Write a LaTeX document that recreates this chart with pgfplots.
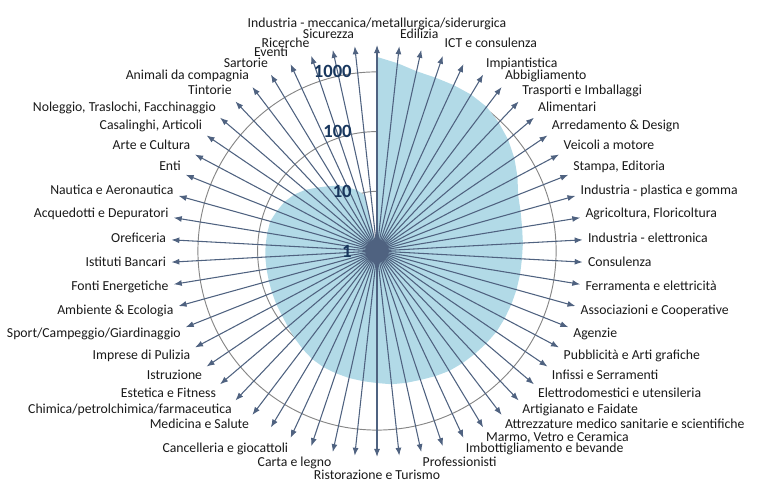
\documentclass[border=0pt]{standalone}
\usepackage{fontspec}
\setmainfont{Carlito}
\usepackage{pgfplots}
\usepackage{pgfplotstable}
\pgfplotsset{compat=1.18}
\usetikzlibrary{arrows.meta}
\definecolor{fillc}{RGB}{178,218,231}
\definecolor{spokec}{RGB}{79,98,128}
\definecolor{gridc}{RGB}{134,134,134}
\definecolor{tickc}{RGB}{23,54,93}
\newcommand\lblfont{\fontsize{10.3}{12}\selectfont}
\tikzset{
  lbl/.style={inner sep=0pt, font=\lblfont, text=black!90, text height=7.3pt, text depth=2.3pt},
  tck/.style={inner sep=0pt, font=\fontsize{14}{16}\selectfont\bfseries, text=tickc, anchor=east}}
\pgfplotstableread{
k v
0 1780
1 1460
2 1210
3 1160
4 1150
5 1140
6 1080
7 920
8 760
9 600
10 460
11 350
12 313
13 290
14 280
15 270
16 268
17 266
18 264
19 262
20 260
21 249
22 239
23 230
24 221
25 205
26 190
27 183
28 176
29 163
30 156
31 151
32 145
33 139
34 129
35 115
36 102
37 91
38 84
39 81
40 78
41 76
42 75
43 75
44 74
45 73
46 72
47 64
48 57
49 48
50 38
51 29
52 23
53 19
54 15
55 12
56 9
57 1
}\data
\newcommand\lab[2]{%
 \pgfmathsetmacro\la{90-#1*6.2068966}%
 \def\rr{3.535}%
 \ifnum#1=0 \def\rr{3.70}\fi
 \ifnum#1=29 \def\rr{3.66}\fi
 \pgfmathsetmacro\cx{cos(\la)}%
 \ifdim\cx pt>0.05pt \def\anc{west}\else\ifdim\cx pt<-0.05pt \def\anc{east}\else\def\anc{center}\fi\fi
 \pgfmathsetmacro\dy{max(-1,min(1,2.2*sin(\la)))*4.8}%
 \edef\labtmp{\noexpand\node[lbl,anchor=\anc,yshift=\dy pt] at (axis cs:{\rr*cos(\la)},{\rr*sin(\la)})}%
 \labtmp{#2};%
}
\begin{document}
\begin{tikzpicture}
\begin{axis}[x=44.775pt,y=44.775pt,
  xmin=-6.315,xmax=6.482,ymin=-4.020,ymax=4.204,
  hide axis, clip=false]
\path (axis cs:-6.315,-4.020) rectangle (axis cs:6.482,4.204);
\draw[gridc, line width=0.7pt] (axis cs:0,0) circle[radius=44.775pt];
\draw[gridc, line width=0.7pt] (axis cs:0,0) circle[radius=89.55pt];
\draw[gridc, line width=0.7pt] (axis cs:0,0) circle[radius=134.325pt];
\addplot[fill=fillc, draw=none] table[x expr={log10(\thisrow{v})*sin(\thisrow{k}*6.2068966)}, y expr={log10(\thisrow{v})*cos(\thisrow{k}*6.2068966)}] {\data};
\pgfplotsinvokeforeach{0,...,57}{\draw[spokec, line width=0.8pt, -{Latex[length=6pt,width=4.5pt]}] (axis cs:0,0) -- (axis cs:{3.45*sin(#1*6.2068966)},{3.45*cos(#1*6.2068966)});}
\fill[spokec] (axis cs:0,0) circle[radius=9pt];
\node[tck] at (axis cs:-0.42,0) {1};
\node[tck] at (axis cs:-0.42,1) {10};
\node[tck] at (axis cs:-0.42,2) {100};
\node[tck] at (axis cs:-0.42,3) {1000};
\lab{0}{Industria - meccanica/metallurgica/siderurgica}
\lab{1}{Edilizia}
\lab{3}{ICT e consulenza}
\lab{5}{Impiantistica}
\lab{6}{Abbigliamento}
\lab{7}{Trasporti e Imballaggi}
\lab{8}{Alimentari}
\lab{9}{Arredamento \& Design}
\lab{10}{Veicoli a motore}
\lab{11}{Stampa, Editoria}
\lab{12}{Industria - plastica e gomma}
\lab{13}{Agricoltura, Floricoltura}
\lab{14}{Industria - elettronica}
\lab{15}{Consulenza}
\lab{16}{Ferramenta e elettricità}
\lab{17}{Associazioni e Cooperative}
\lab{18}{Agenzie}
\lab{19}{Pubblicità e Arti grafiche}
\lab{20}{Infissi e Serramenti}
\lab{21}{Elettrodomestici e utensileria}
\lab{22}{Artigianato e Faidate}
\lab{23}{Attrezzature medico sanitarie e scientifiche}
\lab{24}{Marmo, Vetro e Ceramica}
\lab{25}{Imbottigliamento e bevande}
\lab{27}{Professionisti}
\lab{29}{Ristorazione e Turismo}
\lab{31}{Carta e legno}
\lab{33}{Cancelleria e giocattoli}
\lab{35}{Medicina e Salute}
\lab{36}{Chimica/petrolchimica/farmaceutica}
\lab{37}{Estetica e Fitness}
\lab{38}{Istruzione}
\lab{39}{Imprese di Pulizia}
\lab{40}{Sport/Campeggio/Giardinaggio}
\lab{41}{Ambiente \& Ecologia}
\lab{42}{Fonti Energetiche}
\lab{43}{Istituti Bancari}
\lab{44}{Oreficeria}
\lab{45}{Acquedotti e Depuratori}
\lab{46}{Nautica e Aeronautica}
\lab{47}{Enti}
\lab{48}{Arte e Cultura}
\lab{49}{Casalinghi, Articoli}
\lab{50}{Noleggio, Traslochi, Facchinaggio}
\lab{51}{Tintorie}
\lab{52}{Animali da compagnia}
\lab{53}{Sartorie}
\lab{54}{Eventi}
\lab{55}{Ricerche}
\lab{57}{Sicurezza}
\end{axis}
\end{tikzpicture}
\end{document}
